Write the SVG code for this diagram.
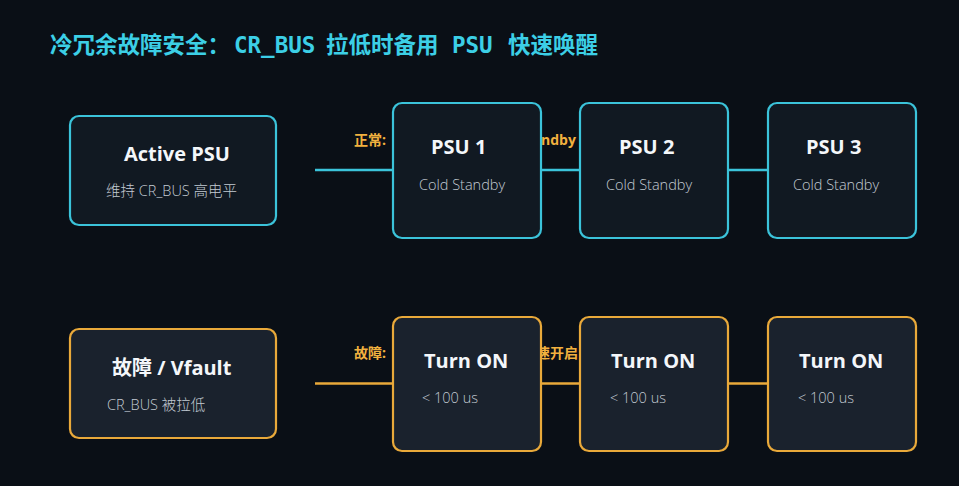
<svg xmlns="http://www.w3.org/2000/svg" width="959" height="486" viewBox="0 0 959 486">
<style>
.bg{fill:#0a0f16}
.ncy{fill:#111922;stroke:#3bc3da;stroke-width:2.2}
.nor{fill:#1a222d;stroke:#e9a93a;stroke-width:2.2}
.t{font-family:"Open Sans","Noto Sans CJK SC",sans-serif;font-weight:700;font-size:20px;fill:#f4f7fa}
.s{font-family:"Open Sans","Noto Sans CJK SC",sans-serif;font-weight:300;font-size:14.5px;fill:#c3cbd3}
.lbl{font-family:"Open Sans","Noto Sans CJK SC",sans-serif;font-weight:700;font-size:14px;fill:#f2b13f}
.title{font-family:"DejaVu Sans Mono","Noto Sans CJK SC",monospace;font-weight:700;font-size:22.5px;fill:#3ccfe6}
</style>
<rect class="bg" x="0" y="0" width="959" height="486"/>
<text class="title" y="53"><tspan x="50">冷冗余故障安全：</tspan><tspan x="234">CR_BUS</tspan><tspan x="326">拉低时备用</tspan><tspan x="452">PSU</tspan><tspan x="508">快速唤醒</tspan></text>
<g id="connectors">
<line x1="315" y1="170" x2="916" y2="170" stroke="#3bc3da" stroke-width="2.5"/>
<line x1="315" y1="383.5" x2="916" y2="383.5" stroke="#e9a93a" stroke-width="2.5"/>
<text class="lbl" x="354" y="145">正常:</text>
<text class="lbl" x="541" y="145">ndby</text>
<text class="lbl" x="354" y="358">故障:</text>
<text class="lbl" x="536" y="358">速开启</text>
</g>
<g id="active-psu">
<rect class="ncy" x="70" y="116" width="206" height="109" rx="9"/>
<text class="t" x="124" y="161">Active PSU</text>
<text class="s" x="106" y="196">维持 CR_BUS 高电平</text>
</g>
<g id="psu1">
<rect class="ncy" x="393" y="103" width="148" height="135" rx="9"/>
<text class="t" x="431" y="154">PSU 1</text>
<text class="s" x="419" y="190">Cold Standby</text>
</g>
<g id="psu2">
<rect class="ncy" x="580" y="103" width="148" height="135" rx="9"/>
<text class="t" x="619" y="154">PSU 2</text>
<text class="s" x="606" y="190">Cold Standby</text>
</g>
<g id="psu3">
<rect class="ncy" x="768" y="103" width="148" height="135" rx="9"/>
<text class="t" x="806" y="154">PSU 3</text>
<text class="s" x="793" y="190">Cold Standby</text>
</g>
<g id="fault">
<rect class="nor" x="70" y="329" width="206" height="109" rx="9"/>
<text class="t" x="112" y="375">故障 / Vfault</text>
<text class="s" x="107" y="410">CR_BUS 被拉低</text>
</g>
<g id="turnon1">
<rect class="nor" x="393" y="317" width="148" height="134" rx="9"/>
<text class="t" x="424" y="368">Turn ON</text>
<text class="s" x="422" y="403">&lt; 100 us</text>
</g>
<g id="turnon2">
<rect class="nor" x="580" y="317" width="148" height="134" rx="9"/>
<text class="t" x="611" y="368">Turn ON</text>
<text class="s" x="610" y="403">&lt; 100 us</text>
</g>
<g id="turnon3">
<rect class="nor" x="768" y="317" width="148" height="134" rx="9"/>
<text class="t" x="799" y="368">Turn ON</text>
<text class="s" x="798" y="403">&lt; 100 us</text>
</g>
</svg>
